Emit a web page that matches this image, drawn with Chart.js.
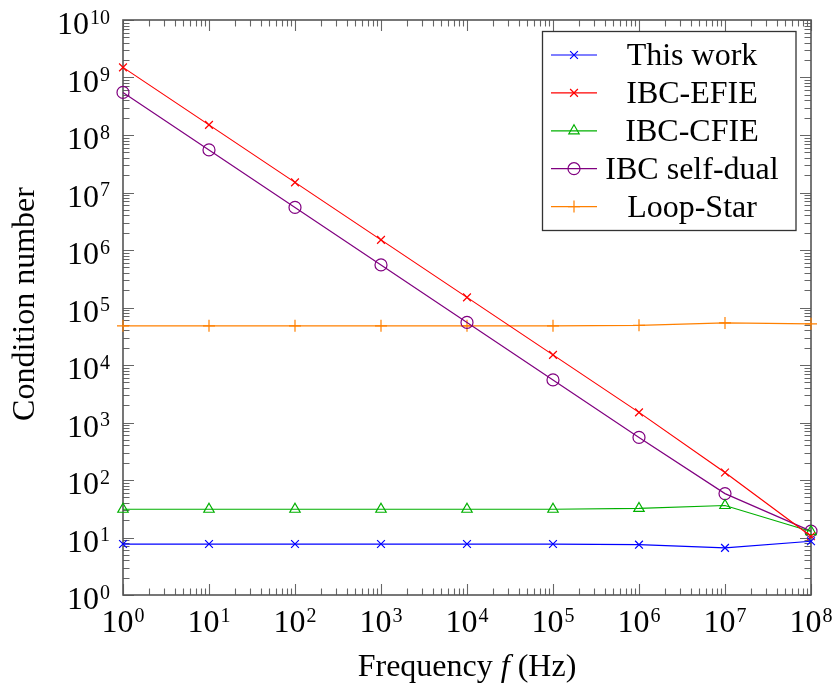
<!DOCTYPE html>
<html>
<head>
<meta charset="utf-8">
<script src="https://cdn.jsdelivr.net/npm/chart.js@4.4.1/dist/chart.umd.min.js"></script>
<style>
  html, body { margin: 0; padding: 0; background: #ffffff; }
  #wrap { width: 833px; height: 690px; }
</style>
</head>
<body>
<div id="wrap"><canvas id="chart" width="833" height="690"></canvas></div>
<script>
// Frequencies (Hz) at which the condition number was evaluated
const frequencies = [1e0, 1e1, 1e2, 1e3, 1e4, 1e5, 1e6, 1e7, 1e8];

// Condition number per formulation
const thisWork    = [7.7, 7.7, 7.7, 7.7, 7.7, 7.7, 7.5, 6.6, 8.6];
const ibcEfie     = [1.5e9, 1.5e8, 1.5e7, 1.5e6, 1.5e5, 1.5e4, 1.5e3, 1.35e2, 10.5];
const ibcCfie     = [31, 31, 31, 31, 31, 31, 32, 36, 12.7];
const ibcSelfDual = [5.5e8, 5.5e7, 5.5e6, 5.5e5, 5.5e4, 5.5e3, 5.5e2, 58, 12.9];
const loopStar    = [4.8e4, 4.8e4, 4.8e4, 4.8e4, 4.8e4, 4.8e4, 4.9e4, 5.4e4, 5.2e4];

const seriesNames = ['This work', 'IBC-EFIE', 'IBC-CFIE', 'IBC self-dual', 'Loop-Star'];

// Decade exponents shown on each axis
const xExponents = [0, 1, 2, 3, 4, 5, 6, 7, 8];
const yExponents = [0, 1, 2, 3, 4, 5, 6, 7, 8, 9, 10];

const SERIF = '"Liberation Serif", "DejaVu Serif", serif';
const FONT_MAIN = '32px ' + SERIF;
const FONT_EXP = '20px ' + SERIF;

function toPoints(values) {
  return frequencies.map((f, i) => ({ x: f, y: values[i] }));
}

function series(label, values, color, pointStyle, radius) {
  return {
    label: label,
    data: toPoints(values),
    borderColor: color,
    backgroundColor: 'rgba(0,0,0,0)',
    borderWidth: 1.2,
    pointStyle: pointStyle,
    pointRadius: radius,
    pointBorderColor: color,
    pointBackgroundColor: 'rgba(0,0,0,0)',
    pointBorderWidth: 1.2,
    tension: 0,
    clip: false
  };
}

// Draws "10" with a raised exponent
function drawPower(ctx, exp, x, baseline, align) {
  ctx.font = FONT_MAIN;
  const wBase = ctx.measureText('10').width;
  ctx.font = FONT_EXP;
  const wExp = ctx.measureText(String(exp)).width;
  const total = wBase + 1 + wExp;
  const left = align === 'center' ? x - total / 2 : x - total;
  ctx.textAlign = 'left';
  ctx.textBaseline = 'alphabetic';
  ctx.font = FONT_MAIN;
  ctx.fillText('10', left, baseline);
  ctx.font = FONT_EXP;
  ctx.fillText(String(exp), left + wBase + 1, baseline - 10.5);
}

// Frame, inward ticks on all four sides
const framePlugin = {
  id: 'frameTicks',
  beforeDatasetsDraw(chart) {
    const { ctx, chartArea: a, scales } = chart;
    const xs = scales.x, ys = scales.y;
    ctx.save();
    ctx.strokeStyle = '#666666';
    ctx.lineWidth = 1.1;
    const majorLen = 11, minorLen = 6.5;
    ctx.beginPath();
    xExponents.forEach(e => {
      for (let m = 1; m <= 9; m++) {
        const v = m * Math.pow(10, e);
        if (v > xs.max) break;
        const px = Math.round(xs.getPixelForValue(v)) + 0.5;
        const len = m === 1 ? majorLen : minorLen;
        ctx.moveTo(px, a.bottom); ctx.lineTo(px, a.bottom - len);
        ctx.moveTo(px, a.top); ctx.lineTo(px, a.top + len);
      }
    });
    yExponents.forEach(e => {
      for (let m = 1; m <= 9; m++) {
        const v = m * Math.pow(10, e);
        if (v > ys.max) break;
        const py = Math.round(ys.getPixelForValue(v)) + 0.5;
        const len = m === 1 ? majorLen : minorLen;
        ctx.moveTo(a.left, py); ctx.lineTo(a.left + len, py);
        ctx.moveTo(a.right, py); ctx.lineTo(a.right - len, py);
      }
    });
    ctx.stroke();
    ctx.strokeStyle = '#555555';
    ctx.lineWidth = 1.6;
    ctx.strokeRect(a.left, a.top, a.right - a.left, a.bottom - a.top);
    ctx.restore();
  },
  afterDraw(chart) {
    const { ctx, chartArea: a, scales } = chart;
    const xs = scales.x, ys = scales.y;
    ctx.save();
    ctx.fillStyle = '#000000';

    // tick labels
    xExponents.forEach(e => {
      drawPower(ctx, e, xs.getPixelForValue(Math.pow(10, e)), a.bottom + 37, 'center');
    });
    yExponents.forEach(e => {
      drawPower(ctx, e, a.left - 13, ys.getPixelForValue(Math.pow(10, e)) + 14, 'right');
    });

    // axis titles
    ctx.textBaseline = 'alphabetic';
    const parts = [
      { t: 'Frequency ', f: FONT_MAIN },
      { t: 'f', f: 'italic ' + FONT_MAIN },
      { t: ' (Hz)', f: FONT_MAIN }
    ];
    let total = 0;
    parts.forEach(p => { ctx.font = p.f; p.w = ctx.measureText(p.t).width; total += p.w; });
    let cx = (a.left + a.right) / 2 - total / 2;
    ctx.textAlign = 'left';
    parts.forEach(p => { ctx.font = p.f; ctx.fillText(p.t, cx, 676); cx += p.w; });

    ctx.save();
    ctx.translate(34, 304);
    ctx.rotate(-Math.PI / 2);
    ctx.textAlign = 'center';
    ctx.font = FONT_MAIN;
    ctx.fillText('Condition number', 0, 0);
    ctx.restore();

    // legend
    const box = { left: 542.5, top: 31.5, right: 796, bottom: 230.5 };
    ctx.fillStyle = '#ffffff';
    ctx.fillRect(box.left, box.top, box.right - box.left, box.bottom - box.top);
    ctx.strokeStyle = '#333333';
    ctx.lineWidth = 1.3;
    ctx.strokeRect(box.left, box.top, box.right - box.left, box.bottom - box.top);
    const rowStep = 37.9;
    chart.data.datasets.forEach((ds, i) => {
      const y = 55 + i * rowStep;
      ctx.strokeStyle = ds.borderColor;
      ctx.lineWidth = ds.borderWidth;
      ctx.beginPath();
      ctx.moveTo(551, y); ctx.lineTo(597, y);
      ctx.stroke();
      ctx.fillStyle = 'rgba(0,0,0,0)';
      Chart.helpers.drawPoint(ctx, {
        pointStyle: ds.pointStyle, radius: ds.pointRadius, rotation: 0, borderWidth: ds.pointBorderWidth
      }, 574, y);
      ctx.fillStyle = '#000000';
      ctx.font = FONT_MAIN;
      ctx.textAlign = 'center';
      ctx.textBaseline = 'alphabetic';
      ctx.fillText(ds.label, 692, y + 10);
    });
    ctx.restore();
  }
};

new Chart(document.getElementById('chart'), {
  type: 'line',
  data: {
    datasets: [
      series(seriesNames[0], thisWork, '#0000ff', 'crossRot', 5.5),
      series(seriesNames[1], ibcEfie, '#ff0000', 'crossRot', 5.5),
      series(seriesNames[2], ibcCfie, '#00b000', 'triangle', 6),
      series(seriesNames[3], ibcSelfDual, '#800080', 'circle', 6),
      series(seriesNames[4], loopStar, '#ff8000', 'cross', 6)
    ]
  },
  options: {
    responsive: false,
    animation: false,
    devicePixelRatio: 1,
    layout: { padding: { left: 123, right: 22, top: 20, bottom: 95 } },
    plugins: { legend: { display: false }, tooltip: { enabled: false } },
    scales: {
      x: { type: 'logarithmic', min: 1, max: 1e8, display: false },
      y: { type: 'logarithmic', min: 1, max: 1e10, display: false }
    }
  },
  plugins: [framePlugin]
});
</script>
</body>
</html>
